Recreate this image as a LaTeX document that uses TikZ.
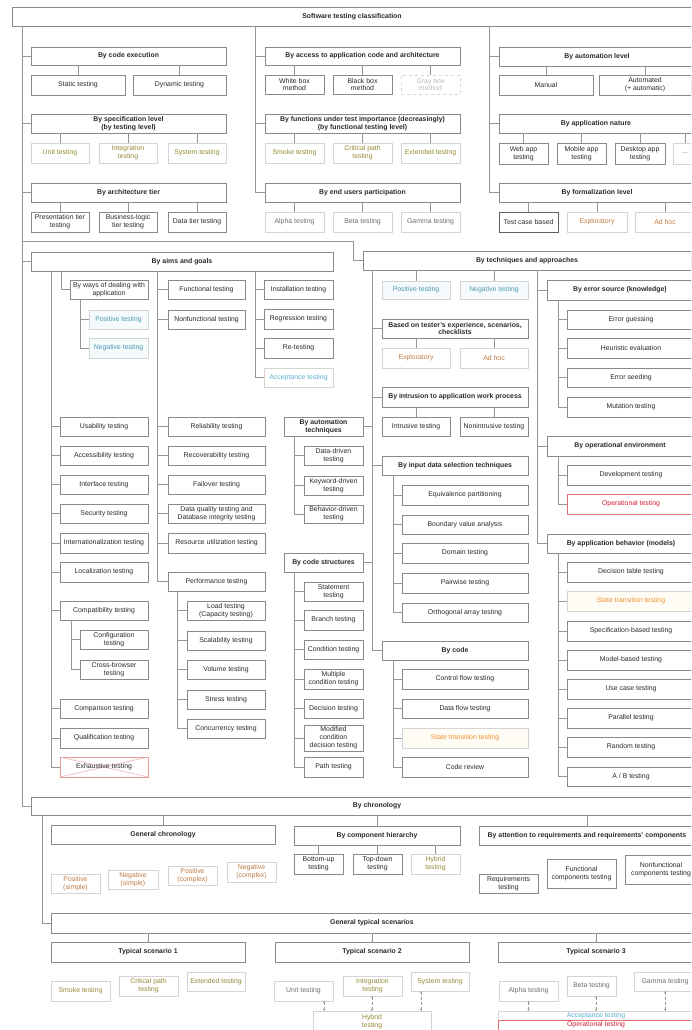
\documentclass[tikz,border=0pt]{standalone}
\usepackage{fontspec}
\setmainfont{Liberation Sans}
\usetikzlibrary{arrows.meta}
\definecolor{bdc}{HTML}{8A8A8A}
\definecolor{lbd}{HTML}{D4D4D4}
\definecolor{lnc}{HTML}{969696}
\definecolor{txc}{HTML}{2A2A2A}
\definecolor{olvc}{HTML}{958A35}
\definecolor{tealc}{HTML}{4A98B0}
\definecolor{tealf}{HTML}{F5FAFC}
\definecolor{brnc}{HTML}{C07A40}
\definecolor{orgc}{HTML}{F0922B}
\definecolor{orgf}{HTML}{FFFBF5}
\definecolor{gryc}{HTML}{6E6E6E}
\definecolor{rdc}{HTML}{D42030}
\definecolor{rdb}{HTML}{E07070}
\definecolor{lblc}{HTML}{5AB0D0}
\definecolor{xcc}{HTML}{E8A8A8}
\tikzset{
 bx/.style={draw=bdc, line width=0.55pt, fill=white, text=txc, font=\fontsize{6.9}{7.9}\selectfont, align=center, inner sep=0.5pt, outer sep=0pt},
 hd/.style={font=\fontsize{6.9}{7.9}\selectfont\bfseries},
 lt/.style={draw=lbd},
 olv/.style={lt, text=olvc},
 tl/.style={lt, text=tealc, fill=tealf},
 brn/.style={lt, text=brnc},
 org/.style={lt, text=orgc, fill=orgf},
 gry/.style={lt, text=gryc},
 rd/.style={draw=rdb, text=rdc},
 lbl/.style={lt, text=lblc},
 ln/.style={draw=lnc, line width=0.55pt},
 dar/.style={ln, densely dashed, {Stealth[length=2pt,width=2pt]}-{Stealth[length=2pt,width=2pt]}},
}
\newcommand\bxn[7][]{\node[bx,#1,minimum width={(#5-#3)*1pt},minimum height={(#6-#4)*1pt}] (#2) at ({(#3+#5)/2},{(#4+#6)/2}) {#7};}
\newcommand\vcn[2]{\draw[ln] (#1.north) -- (#1.north |- #2.south);}
\begin{document}
\begin{tikzpicture}[x=1pt,y=-1pt]
\fill[white] (0,0) rectangle (691,1030);
\useasboundingbox (0,0) rectangle (691,1030);
\clip (0,0) rectangle (691,1030);

% top
\bxn[hd]{top}{12}{7}{692}{26}{Software testing classification}

% column 1
\bxn[hd]{ce}{31}{47}{226}{65}{By code execution}
\bxn{st}{31}{75}{125}{95}{Static testing}
\bxn{dt}{133}{75}{226}{95}{Dynamic testing}
\bxn[hd]{sl}{31}{114}{226}{133}{By specification level\\(by testing level)}
\bxn[olv]{ut}{31}{143}{89}{163}{Unit testing}
\bxn[olv]{it}{99}{143}{157}{163}{Integration\\testing}
\bxn[olv]{syt}{168}{143}{226}{163}{System testing}
\bxn[hd]{at}{31}{183}{226}{202}{By architecture tier}
\bxn{pt}{31}{212}{89}{232}{Presentation tier\\testing}
\bxn{bl}{99}{212}{157}{232}{Business-logic\\tier testing}
\bxn{dtt}{168}{212}{226}{232}{Data tier testing}

% column 2
\bxn[hd]{ac}{265}{47}{460}{65}{By access to application code and architecture}
\bxn{wb}{265}{75}{324}{94}{White box\\method}
\bxn{bb}{333}{75}{392}{94}{Black box\\method}
\bxn[lt,dashed,text=gray!55]{gb}{401}{75}{460}{94}{Gray box\\method}
\bxn[hd]{fi}{265}{114}{460}{133}{By functions under test importance (decreasingly)\\(by functional testing level)}
\bxn[olv]{sm}{265}{143}{324}{163}{Smoke testing}
\bxn[olv]{cp}{333}{143}{392}{163}{Critical path\\testing}
\bxn[olv]{ex}{401}{143}{460}{163}{Extended testing}
\bxn[hd]{eu}{265}{183}{460}{202}{By end users participation}
\bxn[gry]{al}{265}{212}{324}{232}{Alpha testing}
\bxn[gry]{be}{333}{212}{392}{232}{Beta testing}
\bxn[gry]{ga}{401}{212}{460}{232}{Gamma testing}

% column 3
\bxn[hd]{au}{499}{47}{695}{66}{By automation level}
\bxn{ma}{499}{75}{593}{95}{Manual}
\bxn{am}{599}{75}{691}{95}{Automated\\(+ automatic)}
\bxn[hd]{an}{499}{114}{693}{133}{By application nature}
\bxn{wa}{499}{143}{548}{164}{Web app\\testing}
\bxn{mo}{557}{143}{606}{164}{Mobile app\\testing}
\bxn{de}{615}{143}{665}{164}{Desktop app\\testing}
\bxn[gry]{dd}{673}{143}{697}{164}{...}
\bxn[hd]{fl}{499}{183}{695}{202}{By formalization level}
\bxn[draw=black!62]{tc}{499}{212}{558}{232}{Test case based}
\bxn[brn]{exa}{567}{212}{627}{232}{Exploratory}
\bxn[brn]{aha}{635}{212}{695}{232}{Ad hoc}

% aims and goals
\bxn[hd]{ag}{31}{252}{333}{271}{By aims and goals}
\bxn{wd}{70}{280}{148}{299}{By ways of dealing with\\application}
\bxn[tl]{posa}{89}{310}{148}{329}{Positive testing}
\bxn[tl]{nega}{89}{338}{148}{358}{Negative testing}
\bxn{ft}{168}{280}{245}{299}{Functional testing}
\bxn{nf}{168}{310}{245}{329}{Nonfunctional testing}
\bxn{ins}{264}{280}{333}{299}{Installation testing}
\bxn{reg}{264}{309}{333}{329}{Regression testing}
\bxn{ret}{264}{338}{333}{358}{Re-testing}
\bxn[lbl]{acca}{264}{368}{333}{387}{Acceptance testing}

\bxn{us}{60}{417}{148}{436}{Usability testing}
\bxn{acs}{60}{446}{148}{465}{Accessibility testing}
\bxn{inf}{60}{475}{148}{494}{Interface testing}
\bxn{sec}{60}{504}{148}{523}{Security testing}
\bxn{itn}{60}{533}{148}{553}{Internationalization testing}
\bxn{loc}{60}{562}{148}{582}{Localization testing}
\bxn{cmp}{60}{601}{148}{620}{Compatibility testing}
\bxn{cfg}{80}{630}{148}{649}{Configuration\\testing}
\bxn{cbt}{80}{660}{148}{679}{Cross-browser\\testing}
\bxn{cmpr}{60}{699}{148}{718}{Comparison testing}
\bxn{qual}{60}{728}{148}{748}{Qualification testing}
\bxn[draw=rdb!70]{exh}{60}{757}{148}{777}{}

\bxn{rel}{168}{417}{265}{436}{Reliability testing}
\bxn{rec}{168}{446}{265}{465}{Recoverability testing}
\bxn{fail}{168}{475}{265}{494}{Failover testing}
\bxn{dq}{168}{504}{265}{523}{Data quality testing and\\Database integrity testing}
\bxn{ru}{168}{533}{265}{553}{Resource utilization testing}
\bxn{perf}{168}{572}{265}{591}{Performance testing}
\bxn{load}{187}{601}{265}{620}{Load testing\\(Capacity testing)}
\bxn{scal}{187}{631}{265}{650}{Scalability testing}
\bxn{vol}{187}{660}{265}{679}{Volume testing}
\bxn{stre}{187}{690}{265}{709}{Stress testing}
\bxn{conc}{187}{719}{265}{738}{Concurrency testing}

% automation techniques / code structures
\bxn[hd]{ate}{284}{417}{363}{436}{By automation\\techniques}
\bxn{ddt}{304}{446}{363}{465}{Data-driven\\testing}
\bxn{kdt}{304}{476}{363}{495}{Keyword-driven\\testing}
\bxn{bdt}{304}{505}{363}{523}{Behavior-driven\\testing}
\bxn[hd]{cs}{284}{553}{363}{572}{By code structures}
\bxn{stm}{304}{582}{363}{601}{Statement\\testing}
\bxn{brt}{304}{610}{363}{630}{Branch testing}
\bxn{cnd}{304}{640}{363}{659}{Condition testing}
\bxn{mct}{304}{669}{363}{689}{Multiple\\condition testing}
\bxn{dct}{304}{699}{363}{718}{Decision testing}
\bxn{mcdc}{304}{725}{363}{751}{Modified\\condition\\decision testing}
\bxn{pth}{304}{757}{363}{777}{Path testing}

% techniques and approaches
\bxn[hd]{ta}{363}{251}{691}{270}{By techniques and approaches}
\bxn[tl]{posb}{382}{281}{450}{299}{Positive testing}
\bxn[tl]{negb}{460}{281}{528}{299}{Negative testing}
\bxn[hd]{bte}{382}{319}{528}{338}{Based on tester's experience, scenarios,\\checklists}
\bxn[brn]{exb}{382}{348}{450}{368}{Exploratory}
\bxn[brn]{ahb}{460}{348}{528}{368}{Ad hoc}
\bxn[hd]{bi}{382}{387}{528}{407}{By intrusion to application work process}
\bxn{itr}{382}{417}{450}{436}{Intrusive testing}
\bxn{nitr}{460}{417}{528}{436}{Nonintrusive testing}
\bxn[hd]{ids}{382}{456}{528}{475}{By input data selection techniques}
\bxn{eqp}{402}{485}{528}{505}{Equivalence partitioning}
\bxn{bva}{402}{515}{528}{534}{Boundary value analysis}
\bxn{dom}{402}{543}{528}{563}{Domain testing}
\bxn{pw}{402}{573}{528}{593}{Pairwise testing}
\bxn{oat}{402}{603}{528}{622}{Orthogonal array testing}
\bxn[hd]{bc}{382}{641}{528}{660}{By code}
\bxn{cft}{402}{669}{528}{689}{Control flow testing}
\bxn{dft}{402}{699}{528}{718}{Data flow testing}
\bxn[org]{stta}{402}{728}{528}{748}{State transition testing}
\bxn{cr}{402}{757}{528}{777}{Code review}

\bxn[hd]{es}{547}{280}{693}{300}{By error source (knowledge)}
\bxn{eg}{567}{310}{695}{329}{Error guessing}
\bxn{he}{567}{338}{695}{358}{Heuristic evaluation}
\bxn{esd}{567}{368}{695}{387}{Error seeding}
\bxn{mut}{567}{397}{695}{417}{Mutation testing}
\bxn[hd]{oe}{547}{436}{693}{456}{By operational environment}
\bxn{dev}{567}{465}{695}{485}{Development testing}
\bxn[rd]{opa}{567}{494}{695}{514}{Operational testing}
\bxn[hd]{ab}{547}{534}{695}{553}{By application behavior (models)}
\bxn{dtb}{567}{562}{695}{582}{Decision table testing}
\bxn[org]{sttb}{567}{591}{695}{611}{State transition testing}
\bxn{sbt}{567}{621}{695}{641}{Specification-based testing}
\bxn{mbt}{567}{650}{695}{670}{Model-based testing}
\bxn{uct}{567}{679}{695}{699}{Use case testing}
\bxn{part}{567}{708}{695}{728}{Parallel testing}
\bxn{rnd}{567}{737}{695}{757}{Random testing}
\bxn{abt}{567}{767}{695}{786}{A / B testing}

% chronology
\bxn[hd]{chr}{31}{797}{723}{815}{By chronology}
\bxn[hd]{gc}{51}{825}{275}{844}{General chronology}
\bxn[brn]{ps}{51}{874}{100}{893}{Positive\\(simple)}
\bxn[brn]{ns}{108}{870}{158}{889}{Negative\\(simple)}
\bxn[brn]{pc}{168}{866}{217}{885}{Positive\\(complex)}
\bxn[brn]{nc}{227}{862}{276}{882}{Negative\\(complex)}
\bxn[hd]{ch}{294}{826}{460}{845}{By component hierarchy}
\bxn{bu}{294}{854}{343}{874}{Bottom-up\\testing}
\bxn{td}{353}{854}{402}{874}{Top-down\\testing}
\bxn[olv]{hya}{411}{854}{460}{874}{Hybrid\\testing}
\bxn[hd]{ar}{479}{826}{695}{845}{By attention to requirements and requirements' components}
\bxn{rqt}{479}{874}{538}{893}{Requirements\\testing}
\bxn{fct}{547}{859}{616}{888}{Functional\\components testing}
\bxn{nfct}{625}{855}{697}{884}{Nonfunctional\\components testing}

% typical scenarios
\bxn[hd]{gts}{51}{913}{693}{933}{General typical scenarios}
\bxn[hd]{tsa}{51}{942}{245}{962}{Typical scenario 1}
\bxn[olv]{smk}{51}{981}{110}{1001}{Smoke testing}
\bxn[olv]{cpt}{119}{976}{178}{996}{Critical path\\testing}
\bxn[olv]{ext}{187}{972}{245}{991}{Extended testing}
\bxn[hd]{tsb}{275}{942}{469}{962}{Typical scenario 2}
\bxn[gry]{utb}{274}{981}{333}{1001}{Unit testing}
\bxn[olv]{itb}{343}{976}{402}{996}{Integration\\testing}
\bxn[olv]{stb}{411}{972}{469}{991}{System testing}
\bxn[olv]{hyb}{313}{1011}{431}{1032}{Hybrid\\testing}
\bxn[hd]{tsc}{498}{942}{694}{962}{Typical scenario 3}
\bxn[gry]{alb}{499}{981}{558}{1001}{Alpha testing}
\bxn[gry]{beb}{567}{976}{616}{996}{Beta testing}
\bxn[gry]{gab}{634}{972}{696}{991}{Gamma testing}
\bxn[lbl,inner sep=0pt]{accb}{498}{1011}{694}{1020}{Acceptance testing}
\bxn[rd,inner sep=0pt]{opb}{498}{1020}{694}{1030}{Operational testing}

% exhaustive cross
\draw[xcc, line width=0.5pt] (exh.north west) -- (exh.south east) (exh.south west) -- (exh.north east);
\node[font=\fontsize{6.9}{7.9}\selectfont, text=txc] at (exh.center) {Exhaustive testing};

% coordinates
\coordinate (tka) at (22,26);
\coordinate (tkb) at (255,26);
\coordinate (tkc) at (489,26);
\coordinate (tkd) at (22,241);
\coordinate (tke) at (353,241);
\coordinate (aga) at (51,271);
\coordinate (agb) at (61,271);
\coordinate (agc) at (157,271);
\coordinate (agd) at (255,271);
\coordinate (wda) at (80,299);
\coordinate (cma) at (71,620);
\coordinate (pfa) at (177,591);
\coordinate (taa) at (372,270);
\coordinate (tab) at (537,270);
\coordinate (ata) at (294,436);
\coordinate (csa) at (294,572);
\coordinate (ida) at (393,475);
\coordinate (bca) at (393,660);
\coordinate (esa) at (558,300);
\coordinate (oea) at (558,456);
\coordinate (aba) at (558,553);
\coordinate (cha) at (42,815);
\coordinate (uax) at (324,0);
\coordinate (iax) at (372,0);
\coordinate (sax) at (421,0);
\coordinate (bax) at (596,0);

% connectors
\foreach \c in {ce,sl,at,ag,chr} \draw[ln] (tka) |- (\c.west);
\draw[ln] (tkd) -- (tke) |- (ta.west);
\foreach \c in {ac,fi,eu} \draw[ln] (tkb) |- (\c.west);
\foreach \c in {au,an,fl} \draw[ln] (tkc) |- (\c.west);
\vcn{st}{ce} \vcn{dt}{ce}
\vcn{ut}{sl} \vcn{it}{sl} \vcn{syt}{sl}
\vcn{pt}{at} \vcn{bl}{at} \vcn{dtt}{at}
\vcn{wb}{ac} \vcn{bb}{ac} \vcn{gb}{ac}
\vcn{sm}{fi} \vcn{cp}{fi} \vcn{ex}{fi}
\vcn{al}{eu} \vcn{be}{eu} \vcn{ga}{eu}
\vcn{ma}{au} \vcn{am}{au}
\vcn{wa}{an} \vcn{mo}{an} \vcn{de}{an} \vcn{dd}{an}
\vcn{tc}{fl} \vcn{exa}{fl} \vcn{aha}{fl}

\draw[ln] (agb) |- (wd.west);
\foreach \c in {posa,nega} \draw[ln] (wda) |- (\c.west);
\foreach \c in {us,acs,inf,sec,itn,loc,cmp,cmpr,qual,exh} \draw[ln] (aga) |- (\c.west);
\foreach \c in {cfg,cbt} \draw[ln] (cma) |- (\c.west);
\foreach \c in {ft,nf,rel,rec,fail,dq,ru,perf} \draw[ln] (agc) |- (\c.west);
\foreach \c in {load,scal,vol,stre,conc} \draw[ln] (pfa) |- (\c.west);
\foreach \c in {ins,reg,ret,acca} \draw[ln] (agd) |- (\c.west);

\foreach \c in {bte,bi,ids,bc} \draw[ln] (taa) |- (\c.west);
\foreach \c in {ate,cs} \draw[ln] (taa) |- (\c.east);
\foreach \c in {es,oe,ab} \draw[ln] (tab) |- (\c.west);
\vcn{posb}{ta} \vcn{negb}{ta}
\vcn{exb}{bte} \vcn{ahb}{bte}
\vcn{itr}{bi} \vcn{nitr}{bi}
\foreach \c in {ddt,kdt,bdt} \draw[ln] (ata) |- (\c.west);
\foreach \c in {stm,brt,cnd,mct,dct,mcdc,pth} \draw[ln] (csa) |- (\c.west);
\foreach \c in {eqp,bva,dom,pw,oat} \draw[ln] (ida) |- (\c.west);
\foreach \c in {cft,dft,stta,cr} \draw[ln] (bca) |- (\c.west);
\foreach \c in {eg,he,esd,mut} \draw[ln] (esa) |- (\c.west);
\foreach \c in {dev,opa} \draw[ln] (oea) |- (\c.west);
\foreach \c in {dtb,sttb,sbt,mbt,uct,part,rnd,abt} \draw[ln] (aba) |- (\c.west);

\draw[ln] (cha) |- (gts.west);
\vcn{gc}{chr} \vcn{ch}{chr} \vcn{ar}{chr}
\vcn{bu}{ch} \vcn{td}{ch} \vcn{hya}{ch}
\vcn{tsa}{gts} \vcn{tsb}{gts} \vcn{tsc}{gts}

\draw[dar] (utb.south -| uax) -- (hyb.north -| uax);
\draw[dar] (itb.south -| iax) -- (hyb.north -| iax);
\draw[dar] (stb.south -| sax) -- (hyb.north -| sax);
\draw[dar] (alb.south) -- (alb.south |- accb.north);
\draw[dar] (beb.south -| bax) -- (accb.north -| bax);
\draw[dar] (gab.south) -- (gab.south |- accb.north);
\end{tikzpicture}
\end{document}
